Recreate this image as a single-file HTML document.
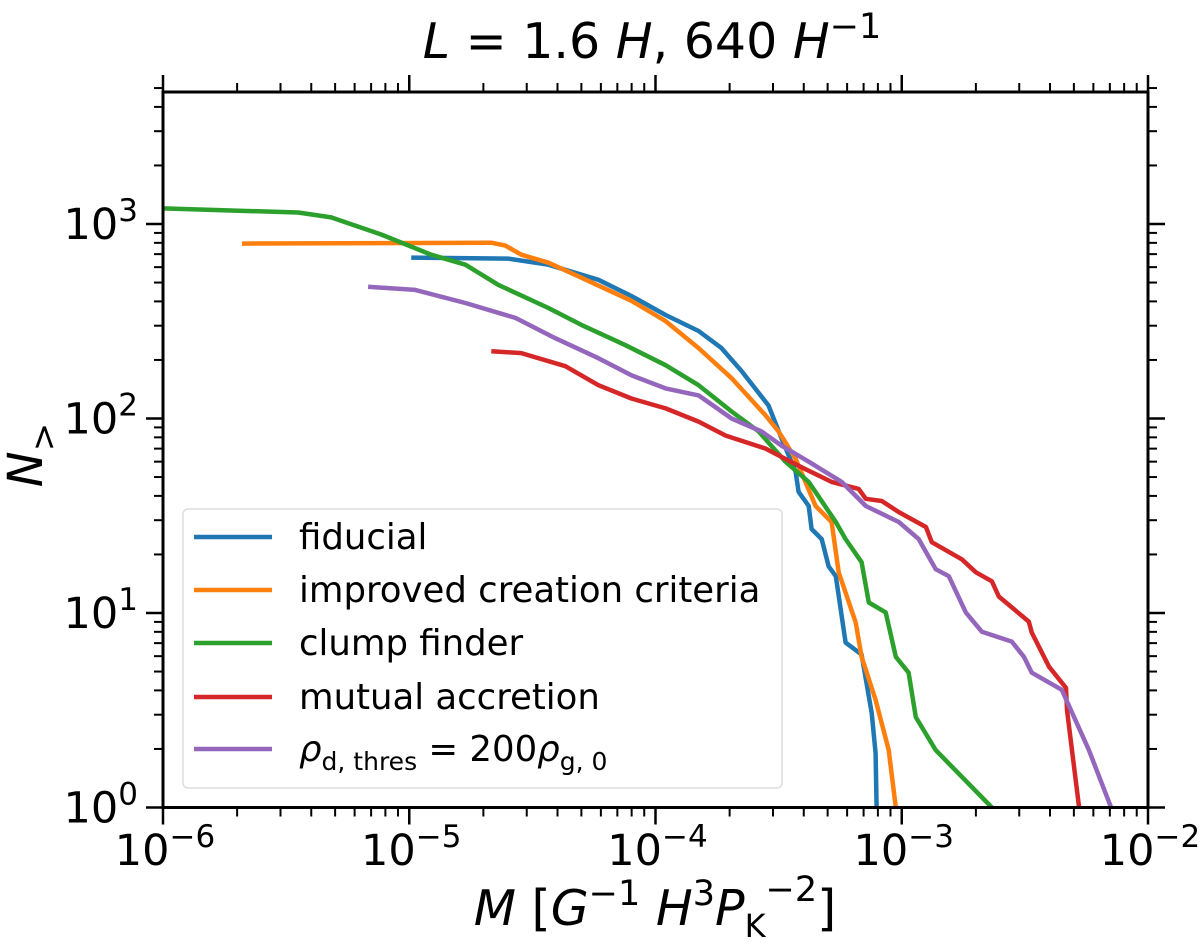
<!DOCTYPE html>
<html><head><meta charset="utf-8"><style>
html,body{margin:0;padding:0;background:#fff}
svg{display:block;font-family:"DejaVu Sans","Liberation Sans",sans-serif}
</style></head><body>
<svg id="chart" width="1200" height="947" viewBox="0 0 1200 947">
<text x="652" y="58" font-size="49" text-anchor="middle"><tspan font-style="italic">L</tspan> = 1.6 <tspan font-style="italic">H</tspan>, 640 <tspan font-style="italic">H</tspan><tspan dy="-20" font-size="35">−1</tspan></text>
<text x="655" y="925" font-size="49" text-anchor="middle"><tspan font-style="italic">M</tspan> [<tspan font-style="italic">G</tspan><tspan dy="-20" font-size="35">−1</tspan><tspan dy="20"> </tspan><tspan font-style="italic">H</tspan><tspan dy="-20" font-size="35">3</tspan><tspan dy="20" font-style="italic">P</tspan><tspan dy="12" font-size="32">K</tspan><tspan dy="-36" font-size="35">−2</tspan><tspan dy="24">]</tspan></text>
<text transform="translate(42,455) rotate(-90)" font-size="48" text-anchor="middle"><tspan font-style="italic">N</tspan><tspan dy="13" font-size="34">&gt;</tspan></text>
<g id="ticks"></g>
<g id="series"></g>
<rect x="163" y="92" width="985" height="715.5" fill="none" stroke="#000" stroke-width="3"/>
<g>
<rect x="183" y="509" width="599" height="279" rx="5" fill="#fff" fill-opacity="0.8" stroke="#ddd" stroke-width="1.5"/>
<g><line x1="194" y1="537" x2="272" y2="537" stroke="#1f77b4" stroke-width="4.5"/><text x="299" y="549" font-size="35.5">fiducial</text></g>
<g><line x1="194" y1="590" x2="272" y2="590" stroke="#ff7f0e" stroke-width="4.5"/><text x="299" y="602" font-size="35.5">improved creation criteria</text></g>
<g><line x1="194" y1="643" x2="272" y2="643" stroke="#2ca02c" stroke-width="4.5"/><text x="299" y="655" font-size="35.5">clump finder</text></g>
<g><line x1="194" y1="697" x2="272" y2="697" stroke="#d62728" stroke-width="4.5"/><text x="299" y="709" font-size="35.5">mutual accretion</text></g>
<g><line x1="194" y1="749" x2="272" y2="749" stroke="#9467bd" stroke-width="4.5"/><text x="299" y="761" font-size="35.5"><tspan font-style="italic">ρ</tspan><tspan dy="9" font-size="25">d, thres</tspan><tspan dy="-9"> = 200</tspan><tspan font-style="italic">ρ</tspan><tspan dy="9" font-size="25">g, 0</tspan></text></g>
</g>
</svg>
<script>
// log10 mass and log10 count values
const fiducialLogM = [-4.992,-4.598,-4.435,-4.232,-4.098,-3.959,-3.825,-3.732,-3.650,-3.541,-3.488,-3.431,-3.419,-3.378,-3.366,-3.325,-3.297,-3.268,-3.228,-3.163,-3.122,-3.106,-3.102];
const fiducialLogN = [2.827,2.822,2.791,2.713,2.630,2.532,2.450,2.362,2.243,2.067,1.897,1.726,1.623,1.550,1.432,1.380,1.240,1.189,0.848,0.786,0.486,0.279,0];
const improvedLogM = [-5.679,-4.667,-4.610,-4.545,-4.435,-4.301,-4.098,-3.959,-3.825,-3.691,-3.553,-3.500,-3.431,-3.350,-3.285,-3.256,-3.187,-3.163,-3.106,-3.053,-3.024];
const improvedLogN = [2.899,2.904,2.889,2.842,2.801,2.724,2.605,2.501,2.362,2.207,2.016,1.933,1.793,1.550,1.468,1.209,0.951,0.775,0.553,0.295,0];
const clumpLogM = [-6.000,-5.451,-5.317,-5.114,-4.911,-4.772,-4.638,-4.435,-4.301,-4.122,-3.959,-3.825,-3.691,-3.581,-3.472,-3.378,-3.268,-3.228,-3.163,-3.134,-3.065,-3.024,-2.972,-2.943,-2.862,-2.634];
const clumpLogN = [3.080,3.059,3.034,2.946,2.842,2.791,2.687,2.568,2.481,2.377,2.274,2.171,2.036,1.933,1.778,1.674,1.468,1.380,1.261,1.054,1.003,0.775,0.693,0.465,0.295,0];
const mutualLogM = [-4.667,-4.545,-4.366,-4.232,-4.098,-3.959,-3.825,-3.715,-3.553,-3.419,-3.285,-3.175,-3.146,-3.081,-3.012,-2.902,-2.878,-2.756,-2.699,-2.634,-2.606,-2.484,-2.472,-2.402,-2.333,-2.329,-2.280];
const mutualLogN = [2.346,2.336,2.269,2.171,2.103,2.052,1.984,1.912,1.845,1.757,1.674,1.638,1.587,1.576,1.519,1.442,1.364,1.276,1.209,1.163,1.085,0.956,0.899,0.724,0.615,0.501,0];
const rhoLogM = [-5.167,-4.976,-4.772,-4.569,-4.407,-4.232,-4.098,-3.959,-3.825,-3.691,-3.569,-3.488,-3.378,-3.244,-3.146,-3.012,-2.931,-2.862,-2.809,-2.740,-2.675,-2.553,-2.504,-2.472,-2.350,-2.240,-2.150];
const rhoLogN = [2.677,2.661,2.594,2.517,2.413,2.310,2.222,2.155,2.119,2.000,1.933,1.860,1.778,1.674,1.550,1.468,1.380,1.225,1.189,1.003,0.904,0.853,0.775,0.693,0.605,0.295,0];
const xTickExps = [-6,-5,-4,-3,-2];
const yTickExps = [0,1,2,3];

const X0=163, X1=1148, Y0=807.5, YTOP=92;
const xDec=(X1-X0)/4, yDec=194.5;
function sx(l){return X0+(l+6)*xDec;}
function sy(l){return Y0-l*yDec;}
const NS="http://www.w3.org/2000/svg";
const ticks=document.getElementById('ticks');
function ln(x1,y1,x2,y2,w,name){const e=document.createElementNS(NS,'line');e.setAttribute('x1',x1);e.setAttribute('y1',y1);e.setAttribute('x2',x2);e.setAttribute('y2',y2);e.setAttribute('stroke','#000');e.setAttribute('stroke-width',w);


ticks.appendChild(e);}
function lbl(x,y,exp,anchor,name){const t=document.createElementNS(NS,'text');t.setAttribute('x',x);t.setAttribute('y',y);t.setAttribute('font-size','43');t.setAttribute('text-anchor',anchor);
t.innerHTML='10<tspan dy="-18" font-size="31">'+(exp<0?'\u2212'+(-exp):exp)+'</tspan>';


ticks.appendChild(t);}
xTickExps.forEach(e=>{const x=sx(e);ln(x,Y0,x,Y0+17,2.5,'x-major-tick');ln(x,YTOP,x,YTOP-17,2.5,'x-top-tick');lbl(x+2,865,e,'middle','x-tick-label');
 if(e<-2)for(let k=2;k<10;k++){const xm=sx(e+Math.log10(k));ln(xm,Y0,xm,Y0+9,2,'x-minor-tick');ln(xm,YTOP,xm,YTOP-9,2,'x-top-minor-tick');}});
for(let e=0;e<4;e++){for(let k=1;k<10;k++){const l=e+Math.log10(k);if(l>3.7)break;const y=sy(l);const L=k==1?17:9;
 ln(X0,y,X0-L,y,k==1?2.5:2,'y-tick');ln(X1,y,X1+L,y,k==1?2.5:2,'y-right-tick');}}
yTickExps.forEach(e=>{lbl(138,sy(e)+15,e,'end','y-tick-label');});
const series=document.getElementById('series');
function draw(lm,lnn,color,name){const p=document.createElementNS(NS,'polyline');
 p.setAttribute('points',lm.map((m,i)=>sx(m).toFixed(1)+','+sy(lnn[i]).toFixed(1)).join(' '));
 p.setAttribute('fill','none');p.setAttribute('stroke',color);p.setAttribute('stroke-width','4.5');p.setAttribute('stroke-linejoin','round');
 
 
 series.appendChild(p);}
draw(fiducialLogM,fiducialLogN,'#1f77b4','fiducial-line');
draw(improvedLogM,improvedLogN,'#ff7f0e','improved-criteria-line');
draw(clumpLogM,clumpLogN,'#2ca02c','clump-finder-line');
draw(mutualLogM,mutualLogN,'#d62728','mutual-accretion-line');
draw(rhoLogM,rhoLogN,'#9467bd','rho-thres-line');
</script>
</body></html>
